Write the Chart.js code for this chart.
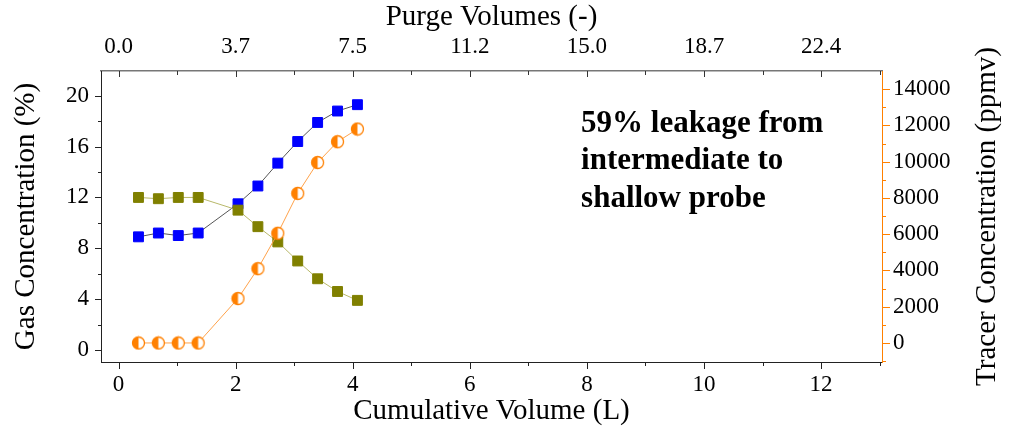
<!DOCTYPE html>
<html>
<head>
<meta charset="utf-8">
<script src="https://cdn.jsdelivr.net/npm/chart.js@4.4.0/dist/chart.umd.min.js"></script>
<style>
  html, body { margin: 0; padding: 0; background: #fff; }
  #wrap { width: 1018px; height: 432px; }
</style>
</head>
<body>
<div id="wrap"><canvas id="chart" width="1018" height="432"></canvas></div>
<script>
// values
const volumes = [0.34, 0.68, 1.02, 1.36, 2.04, 2.38, 2.72, 3.06, 3.40, 3.74, 4.08];
const blueGas = [8.9, 9.2, 9.0, 9.2, 11.5, 12.9, 14.7, 16.4, 17.9, 18.8, 19.3];
const oliveGas = [12.0, 11.9, 12.0, 12.0, 11.0, 9.7, 8.5, 7.0, 5.6, 4.6, 3.9];
const tracer = [0, 0, 0, 0, 2450, 4100, 6050, 8250, 9950, 11100, 11800];

const volumeTicks = [0, 2, 4, 6, 8, 10, 12];
const volumeMinor = [1, 3, 5, 7, 9, 11, 13];
const purgeLabels = ['0.0', '3.7', '7.5', '11.2', '15.0', '18.7', '22.4'];
const gasTicks = [0, 4, 8, 12, 16, 20];
const gasMinor = [2, 6, 10, 14, 18];
const tracerTicks = [0, 2000, 4000, 6000, 8000, 10000, 12000, 14000];
const tracerMinor = [-1000, 1000, 3000, 5000, 7000, 9000, 11000, 13000];
const noteLines = ['59% leakage from', 'intermediate to', 'shallow probe'];
const tracerTitle = 'Tracer Concentration (ppmv)';

const FONT = 'Liberation Serif';
const ORANGE = '#ff8000';

// half filled circle marker
function halfCircle() {
    const c = document.createElement('canvas');
    c.width = 15; c.height = 15;
    const g = c.getContext('2d');
    g.fillStyle = '#fff';
    g.beginPath(); g.arc(7.5, 7.5, 6, 0, Math.PI * 2); g.fill();
    g.fillStyle = ORANGE;
    g.beginPath(); g.arc(7.5, 7.5, 6, Math.PI / 2, Math.PI * 1.5); g.closePath(); g.fill();
    g.strokeStyle = ORANGE; g.lineWidth = 1.3;
    g.beginPath(); g.arc(7.5, 7.5, 6, 0, Math.PI * 2); g.stroke();
    return c;
}

const pts = (ys) => volumes.map((x, i) => ({ x: x, y: ys[i] }));
const setTicks = (vals) => (sc) => { sc.ticks = vals.map(v => ({ value: v })); };

const tickMarks = {
    id: 'tickMarks',
    afterDraw(chart) {
        const ctx = chart.ctx;
        const a = chart.chartArea;
        const s = chart.scales;
        ctx.save();
        ctx.lineWidth = 1;
        function hmarks(scale, vals, y0, len, color) {
            ctx.strokeStyle = color;
            vals.forEach(v => {
                const x = Math.round(scale.getPixelForValue(v)) + 0.5;
                ctx.beginPath(); ctx.moveTo(x, y0); ctx.lineTo(x, y0 + len); ctx.stroke();
            });
        }
        function vmarks(scale, vals, x0, len, color) {
            ctx.strokeStyle = color;
            vals.forEach(v => {
                const y = Math.round(scale.getPixelForValue(v)) + 0.5;
                ctx.beginPath(); ctx.moveTo(x0, y); ctx.lineTo(x0 + len, y); ctx.stroke();
            });
        }
        hmarks(s.x, volumeTicks, a.bottom, 7, '#222');
        hmarks(s.x, volumeMinor, a.bottom, 4, '#222');
        hmarks(s.x2, volumeTicks, a.top, 6, '#333');
        hmarks(s.x2, volumeMinor, a.top, 4, '#333');
        vmarks(s.y, gasTicks, a.left, -6, '#222');
        vmarks(s.y, gasMinor, a.left, -3, '#222');
        vmarks(s.y2, tracerTicks, a.right, 8, ORANGE);
        vmarks(s.y2, tracerMinor, a.right, 4, ORANGE);

        // right axis title reads bottom to top, like the left one
        ctx.save();
        ctx.translate(987, (a.top + a.bottom) / 2);
        ctx.rotate(-Math.PI / 2);
        ctx.fillStyle = '#000';
        ctx.font = '29px ' + FONT;
        ctx.textAlign = 'center';
        ctx.textBaseline = 'middle';
        ctx.fillText(tracerTitle, 0, 0);
        ctx.restore();
        ctx.restore();
    }
};

const note = {
    id: 'note',
    afterDatasetsDraw(chart) {
        const ctx = chart.ctx;
        const x = chart.scales.x.getPixelForValue(7.9);
        const y = chart.scales.y.getPixelForValue(17.15);
        ctx.save();
        ctx.fillStyle = '#000';
        ctx.font = 'bold 31px ' + FONT;
        ctx.textAlign = 'left';
        ctx.textBaseline = 'alphabetic';
        noteLines.forEach((t, i) => ctx.fillText(t, x, y + i * 37.5));
        ctx.restore();
    }
};

const tickFont = { family: FONT, size: 23 };
const titleFont = { family: FONT, size: 29 };

new Chart(document.getElementById('chart'), {
    type: 'line',
    data: {
        datasets: [
            {
                data: pts(tracer), yAxisID: 'y2', order: 1,
                borderColor: '#ffa24a', borderWidth: 1,
                pointStyle: halfCircle(), pointRadius: 7
            },
            {
                data: pts(oliveGas), yAxisID: 'y', order: 2,
                borderColor: '#b8b86a', borderWidth: 1,
                pointStyle: 'rect', pointRadius: 7,
                pointBackgroundColor: '#808000', pointBorderColor: '#808000', pointBorderWidth: 1
            },
            {
                data: pts(blueGas), yAxisID: 'y', order: 3,
                borderColor: '#555', borderWidth: 1,
                pointStyle: 'rect', pointRadius: 7,
                pointBackgroundColor: '#0000ff', pointBorderColor: '#0000ff', pointBorderWidth: 1
            }
        ]
    },
    options: {
        responsive: false,
        animation: false,
        layout: { padding: 0 },
        plugins: { legend: { display: false }, tooltip: { enabled: false } },
        scales: {
            x: {
                type: 'linear', position: 'bottom', min: -0.3, max: 13.04,
                afterBuildTicks: setTicks(volumeTicks),
                afterFit: (sc) => { sc.height = 70; },
                grid: { display: false, drawTicks: false },
                border: { display: true, color: '#222', width: 1 },
                ticks: { font: tickFont, color: '#000', padding: 9, maxRotation: 0 },
                title: { display: true, text: 'Cumulative Volume (L)', font: titleFont, color: '#000', padding: { bottom: 3 } }
            },
            x2: {
                type: 'linear', position: 'top', min: -0.3, max: 13.04,
                afterBuildTicks: setTicks(volumeTicks),
                afterFit: (sc) => { sc.height = 71; },
                grid: { display: false, drawTicks: false },
                border: { display: true, color: '#777', width: 1.5 },
                ticks: {
                    font: tickFont, color: '#000', padding: 10, maxRotation: 0,
                    callback: (v) => purgeLabels[volumeTicks.indexOf(v)]
                },
                title: { display: true, text: 'Purge Volumes (-)', font: titleFont, color: '#000', padding: { top: 0 } }
            },
            y: {
                type: 'linear', position: 'left', min: -0.95, max: 21.95,
                afterBuildTicks: setTicks(gasTicks),
                afterFit: (sc) => { sc.width = 101; },
                grid: { display: false, drawTicks: false },
                border: { display: true, color: '#222', width: 1 },
                ticks: { font: tickFont, color: '#000', padding: 12 },
                title: { display: true, text: 'Gas Concentration (%)', font: titleFont, color: '#000', padding: { top: 9 } }
            },
            y2: {
                type: 'linear', position: 'right', min: -1050, max: 15000,
                afterBuildTicks: setTicks(tracerTicks),
                afterFit: (sc) => { sc.width = 136; },
                grid: { display: false, drawTicks: false },
                border: { display: true, color: ORANGE, width: 1 },
                ticks: { font: tickFont, color: '#000', padding: 11, callback: (v) => String(v) },
                title: { display: false }
            }
        }
    },
    plugins: [tickMarks, note]
});
</script>
</body>
</html>
